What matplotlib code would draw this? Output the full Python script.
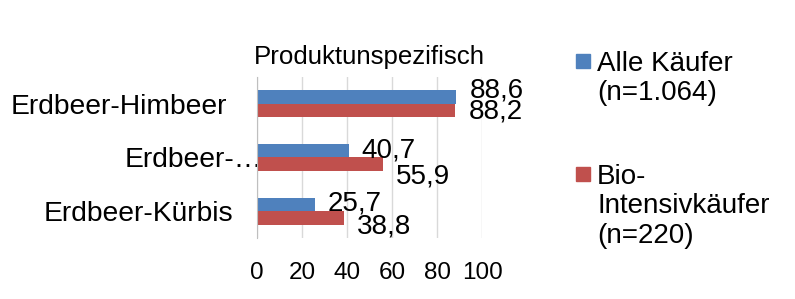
import matplotlib.pyplot as plt
import numpy as np
from matplotlib.patches import Rectangle

plt.rcParams['font.family'] = ['Liberation Sans', 'DejaVu Sans']

# Daten
kategorien = ["Erdbeer-Himbeer", "Erdbeer-…", "Erdbeer-Kürbis"]
alle_kaeufer = [88.6, 40.7, 25.7]
bio_intensiv = [88.2, 55.9, 38.8]
serien = ["Alle Käufer\n(n=1.064)", "Bio-\nIntensivkäufer\n(n=220)"]
farben = ["#4F81BD", "#C0504D"]
x_ticks = [0, 20, 40, 60, 80, 100]

fig = plt.figure(figsize=(7.95, 2.99), dpi=100)
ax = fig.add_axes([0.3233, 0.204, 0.2830, 0.5385])

def px(p):
    # Pixel -> Punkte
    return p * 72 / fig.dpi

y = np.arange(len(kategorien))
h = 0.25
ax.barh(y - h / 2, alle_kaeufer, height=h, color=farben[0], zorder=2)
ax.barh(y + h / 2, bio_intensiv, height=h, color=farben[1], zorder=2)

# Werte-Beschriftungen (wie in Excel auseinandergezogen, damit sie sich nicht decken)
dy_blau = [16, 10, 11]
dy_rot = [-5, -16, -12.5]
for i in range(len(kategorien)):
    ax.annotate(f"{alle_kaeufer[i]:.1f}".replace(".", ","), (alle_kaeufer[i], y[i]),
                xytext=(px(13), px(dy_blau[i])), textcoords="offset points",
                va="center_baseline", fontsize=20)
    ax.annotate(f"{bio_intensiv[i]:.1f}".replace(".", ","), (bio_intensiv[i], y[i]),
                xytext=(px(13), px(dy_rot[i])), textcoords="offset points",
                va="center_baseline", fontsize=20)

ax.set_ylim(len(kategorien) - 0.5, -0.5)
ax.set_xlim(0, 100)
ax.set_yticks(y)
ax.set_yticklabels([])
ax.set_xticks(x_ticks)
ax.set_xticklabels([str(v) for v in x_ticks], fontsize=17.5)
ax.tick_params(axis="both", length=0)
ax.tick_params(axis="x", pad=17)
ax.grid(axis="x", color="#D9D9D9", linewidth=1, zorder=0)
for s in ["top", "right", "bottom"]:
    ax.spines[s].set_visible(False)
ax.spines["left"].set_color("#BFBFBF")
ax.set_title("Produktunspezifisch", fontsize=18.6, pad=9)

# Kategorien-Beschriftung (rechter Rand wie im Original leicht versetzt)
label_rand = [-30, 6, -24]
for i, kat in enumerate(kategorien):
    ax.annotate(kat, (0, y[i]), xycoords=("axes fraction", "data"),
                xytext=(px(label_rand[i]), 0), textcoords="offset points",
                ha="right", va="center_baseline", fontsize=20.3, zorder=1)

# Legende
legende_y = [0.793, 0.415]
for name, farbe, ly in zip(serien, farben, legende_y):
    fig.patches.append(Rectangle((0.7245, ly - 0.022), 0.0176, 0.047, transform=fig.transFigure,
                                 color=farbe))
    fig.text(0.751, ly + 0.037, name, fontsize=20, va="top", linespacing=1.17)

fig.savefig("out.png", dpi=100)
